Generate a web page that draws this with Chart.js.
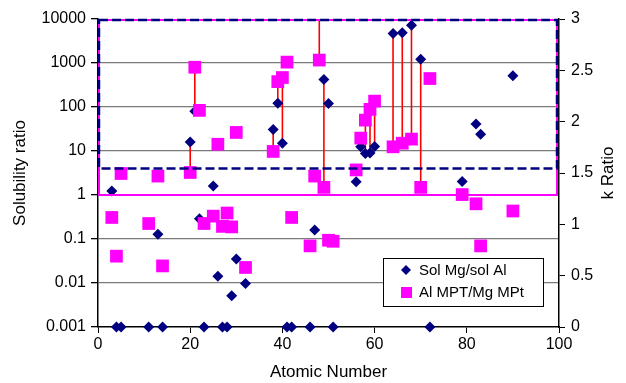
<!DOCTYPE html>
<html>
<head>
<meta charset="utf-8">
<script src="https://cdn.jsdelivr.net/npm/chart.js@4.4.0/dist/chart.umd.min.js"></script>
<style>
  html, body { margin: 0; padding: 0; background: #fff; }
  #wrap { width: 626px; height: 383px; }
</style>
</head>
<body>
<div id="wrap"><canvas id="chart" width="626" height="383"></canvas></div>
<script>
// elements plotted (atomic number), solubility ratio (left, log) and k ratio (right)
const atomicNumber = [3, 4, 5, 11, 13, 14, 20, 21, 22, 23, 25, 26, 27, 28, 29, 30, 32, 38, 39, 40, 41,
  42, 46, 47, 48, 49, 50, 51, 56, 57, 58, 59, 60, 64, 66, 68, 70, 72, 79, 82, 83, 90];
const solRatio = [1.24, 0.001, 0.001, 0.001, 0.128, 0.001, 16, 80, 0.29, 0.001, 1.6, 0.0142, 0.001, 0.001,
  0.0051, 0.035, 0.0097, 31, 121, 15, 0.001, 0.001, 0.001, 0.16, 20000, 424, 120, 0.001, 2.0, 12.5, 8.8,
  9, 12.6, 4700, 4880, 7200, 1210, 0.001, 2.04, 41, 24, 513];
const kRatio = [1.067, 0.69, 1.495, 1.008, 1.47, 0.595, 1.505, 2.53, 2.11, 1.008, 1.08, 1.78, 0.98, 1.11,
  0.975, 1.895, 0.58, 1.71, 2.39, 2.43, 2.58, 1.067, 0.79, 1.47, 2.6, 1.36, 0.845, 0.835, 1.53, 1.84, 2.015,
  2.12, 2.2, 1.755, 1.79, 1.83, 1.36, 2.42, 1.29, 1.20, 0.79, 1.13];
// elements joined by a red line
const linked = [20, 21, 38, 39, 40, 48, 49, 57, 58, 59, 60, 64, 66, 68, 70];

const xTicks = [0, 20, 40, 60, 80, 100];
const solTicks = [0.001, 0.01, 0.1, 1, 10, 100, 1000, 10000];
const kTicks = [0, 0.5, 1, 1.5, 2, 2.5, 3];

// highlight region (left axis values)
const boxTop = 10000;
const boxBottom = 1;
const dashedLevel = 4;

const FONT = "'Liberation Sans', Arial, sans-serif";

const overlays = {
  id: 'overlays',
  beforeDatasetsDraw(chart) {
    const {ctx, chartArea, scales: {x, ysol, yk}} = chart;
    ctx.save();
    ctx.beginPath();
    ctx.rect(chartArea.left, chartArea.top, chartArea.width, chartArea.height);
    ctx.clip();
    ctx.strokeStyle = '#FF0000';
    ctx.lineWidth = 1.6;
    linked.forEach(z => {
      const i = atomicNumber.indexOf(z);
      const px = x.getPixelForValue(z);
      ctx.beginPath();
      ctx.moveTo(px, ysol.getPixelForValue(solRatio[i]));
      ctx.lineTo(px, yk.getPixelForValue(kRatio[i]));
      ctx.stroke();
    });
    ctx.restore();
  },
  afterDatasetsDraw(chart) {
    const {ctx, chartArea, scales: {x, ysol}} = chart;
    const left = x.getPixelForValue(0) + 1;
    const right = x.getPixelForValue(100) - 2;
    const top = ysol.getPixelForValue(boxTop) + 1;
    const pinkBottom = ysol.getPixelForValue(boxBottom);
    const dashY = ysol.getPixelForValue(dashedLevel);
    ctx.save();
    ctx.strokeStyle = '#FF00FF';
    ctx.lineWidth = 2;
    ctx.strokeRect(left, top, right - left, pinkBottom - top);
    ctx.strokeStyle = '#000080';
    ctx.lineWidth = 2.5;
    ctx.setLineDash([9, 4]);
    ctx.strokeRect(left, top, right - left, dashY - top);
    ctx.restore();

    // legend box
    const lx = chartArea.right - 176, ly = chartArea.bottom - 69;
    ctx.save();
    ctx.fillStyle = '#fff';
    ctx.strokeStyle = '#000';
    ctx.lineWidth = 1;
    ctx.fillRect(lx, ly, 160, 48);
    ctx.strokeRect(lx + 0.5, ly + 0.5, 160, 48);
    ctx.fillStyle = '#000080';
    ctx.beginPath();
    ctx.moveTo(lx + 23, ly + 7);
    ctx.lineTo(lx + 28, ly + 12);
    ctx.lineTo(lx + 23, ly + 17);
    ctx.lineTo(lx + 18, ly + 12);
    ctx.closePath();
    ctx.fill();
    ctx.fillStyle = '#FF00FF';
    ctx.fillRect(lx + 18, ly + 29, 11, 11);
    ctx.fillStyle = '#000';
    ctx.font = '15px ' + FONT;
    ctx.textBaseline = 'middle';
    ctx.fillText('Sol Mg/sol Al', lx + 36, ly + 13);
    ctx.fillText('Al MPT/Mg MPt', lx + 36, ly + 35);
    ctx.restore();

    // right axis title, reading upwards like the left one
    ctx.save();
    ctx.translate(chart.width - 18, (chartArea.top + chartArea.bottom) / 2);
    ctx.rotate(-Math.PI / 2);
    ctx.fillStyle = '#000';
    ctx.font = '17px ' + FONT;
    ctx.textAlign = 'center';
    ctx.textBaseline = 'middle';
    ctx.fillText('k Ratio', 0, 0);
    ctx.restore();
  }
};

new Chart(document.getElementById('chart'), {
  type: 'scatter',
  data: {
    datasets: [
      {
        label: 'Al MPT/Mg MPt',
        data: atomicNumber.map((z, i) => ({x: z, y: kRatio[i]})),
        yAxisID: 'yk',
        pointStyle: 'rect',
        radius: 9,
        backgroundColor: '#FF00FF',
        borderColor: '#FF00FF',
        borderWidth: 0,
        clip: false
      },
      {
        label: 'Sol Mg/sol Al',
        data: atomicNumber.map((z, i) => ({x: z, y: solRatio[i]})),
        yAxisID: 'ysol',
        pointStyle: 'rectRot',
        radius: 5.5,
        backgroundColor: '#000080',
        borderColor: '#000080',
        borderWidth: 0,
        clip: {left: 10, right: 10, top: 0, bottom: 10}
      }
    ]
  },
  options: {
    responsive: false,
    animation: false,
    layout: {padding: {top: 19}},
    plugins: {legend: {display: false}, tooltip: {enabled: false}},
    scales: {
      x: {
        type: 'linear',
        position: 'bottom',
        min: 0,
        max: 100,
        afterBuildTicks: s => { s.ticks = xTicks.map(v => ({value: v})); },
        afterFit: s => { s.height = 56; },
        grid: {drawOnChartArea: false, color: '#000', tickLength: 6},
        border: {color: '#000', width: 1.5},
        ticks: {color: '#000', font: {family: FONT, size: 16}, padding: 2, maxRotation: 0},
        title: {display: true, text: 'Atomic Number', color: '#000', font: {family: FONT, size: 17}, padding: {top: 0, bottom: 0}}
      },
      ysol: {
        type: 'logarithmic',
        position: 'left',
        min: 0.001,
        max: 10000,
        afterBuildTicks: s => { s.ticks = solTicks.map(v => ({value: v})); },
        afterFit: s => { s.width = 98; },
        grid: {
          color: c => (c.tick && (c.tick.value === 10000 || c.tick.value === 0.001)) ? 'rgba(0,0,0,0)' : '#7a7a7a',
          tickColor: '#000',
          tickLength: 7,
          lineWidth: 1.3
        },
        border: {color: '#000', width: 1.5},
        ticks: {color: '#000', font: {family: FONT, size: 16}, padding: 5, callback: v => String(v)},
        title: {display: true, text: 'Solubility ratio', color: '#000', font: {family: FONT, size: 17}, padding: {top: 10, bottom: 0}}
      },
      yk: {
        type: 'linear',
        position: 'right',
        min: 0,
        max: 3,
        afterBuildTicks: s => { s.ticks = kTicks.map(v => ({value: v})); },
        afterFit: s => { s.width = 67; },
        grid: {drawOnChartArea: false, color: '#000', tickLength: 6},
        border: {color: '#000', width: 1.5},
        ticks: {color: '#000', font: {family: FONT, size: 16}, padding: 6, callback: v => String(v)},
        title: {display: false}
      }
    }
  },
  plugins: [overlays]
});
</script>
</body>
</html>
